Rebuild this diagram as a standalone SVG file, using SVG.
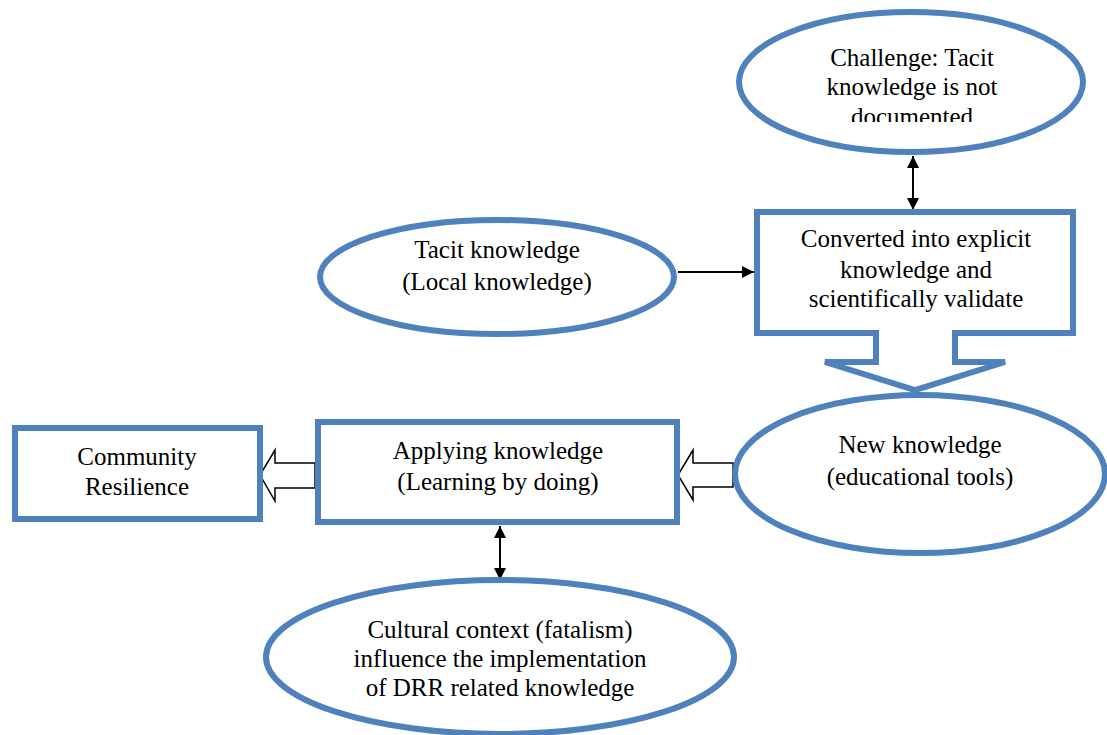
<svg xmlns="http://www.w3.org/2000/svg" width="1107" height="735" viewBox="0 0 1107 735">
  <defs>
    <style>
      .shape { fill: #ffffff; stroke: #4f81bd; stroke-width: 6; }
      .lbl { font-family: 'Liberation Serif', 'Times New Roman', serif; font-size: 25px; fill: #000; text-anchor: middle; }
      .link { stroke: #000; stroke-width: 2; fill: none; }
      .hollow { fill: #ffffff; stroke: #000; stroke-width: 1.5; stroke-linejoin: miter; }
    </style>
    <marker id="head" viewBox="0 0 10 10" refX="10" refY="5" markerWidth="7" markerHeight="6" orient="auto-start-reverse" markerUnits="strokeWidth">
      <path d="M0,0 L10,5 L0,10 Z" fill="#000"/>
    </marker>
    <clipPath id="clipTop">
      <rect x="700" y="0" width="407" height="122"/>
    </clipPath>
  </defs>

  <rect width="1107" height="735" fill="#ffffff"/>

  <!-- connectors -->
  <g id="connectors">
    <line class="link" x1="913" y1="156" x2="913" y2="210" marker-start="url(#head)" marker-end="url(#head)"/>
    <line class="link" x1="678" y1="272" x2="754" y2="272" marker-end="url(#head)"/>
    <line class="link" x1="500" y1="526" x2="500" y2="580" marker-start="url(#head)" marker-end="url(#head)"/>
    <!-- block arrows -->
    <path class="hollow" d="M733,463 H693 V450 L678,475 L693,500 V487 H733 Z"/>
    <path class="hollow" d="M315,463 H275 V450 L260,475 L275,501 V488 H315 Z"/>
  </g>

  <g id="challenge">
    <ellipse class="shape" cx="911" cy="82" rx="172" ry="70"/>
    <g clip-path="url(#clipTop)">
      <text class="lbl" x="912" y="66">Challenge: Tacit</text>
      <text class="lbl" x="912" y="95">knowledge is not</text>
      <text class="lbl" x="912" y="125">documented</text>
    </g>
  </g>

  <g id="converted">
    <path class="shape" d="M757,212 H1073 V333 H955 V362 H1005 L915,390 L825,362 H876 V333 H757 Z"/>
    <text class="lbl" x="916" y="247">Converted into explicit</text>
    <text class="lbl" x="916" y="278">knowledge and</text>
    <text class="lbl" x="916" y="307">scientifically validate</text>
  </g>

  <g id="tacit">
    <ellipse class="shape" cx="497" cy="277" rx="177" ry="57"/>
    <text class="lbl" x="497" y="258">Tacit knowledge</text>
    <text class="lbl" x="497" y="290">(Local knowledge)</text>
  </g>

  <g id="new-knowledge">
    <ellipse class="shape" cx="920" cy="474" rx="185" ry="79"/>
    <text class="lbl" x="920" y="453">New knowledge</text>
    <text class="lbl" x="920" y="485">(educational tools)</text>
  </g>

  <g id="applying">
    <rect class="shape" x="318" y="422" width="359" height="100"/>
    <text class="lbl" x="498" y="459">Applying knowledge</text>
    <text class="lbl" x="498" y="490">(Learning by doing)</text>
  </g>

  <g id="community">
    <rect class="shape" x="15" y="428" width="245" height="91"/>
    <text class="lbl" x="137" y="465">Community</text>
    <text class="lbl" x="137" y="495">Resilience</text>
  </g>

  <g id="cultural">
    <ellipse class="shape" cx="500" cy="657" rx="234" ry="77"/>
    <text class="lbl" x="500" y="638">Cultural context (fatalism)</text>
    <text class="lbl" x="500" y="667">influence the implementation</text>
    <text class="lbl" x="500" y="696">of DRR related knowledge</text>
  </g>
</svg>
